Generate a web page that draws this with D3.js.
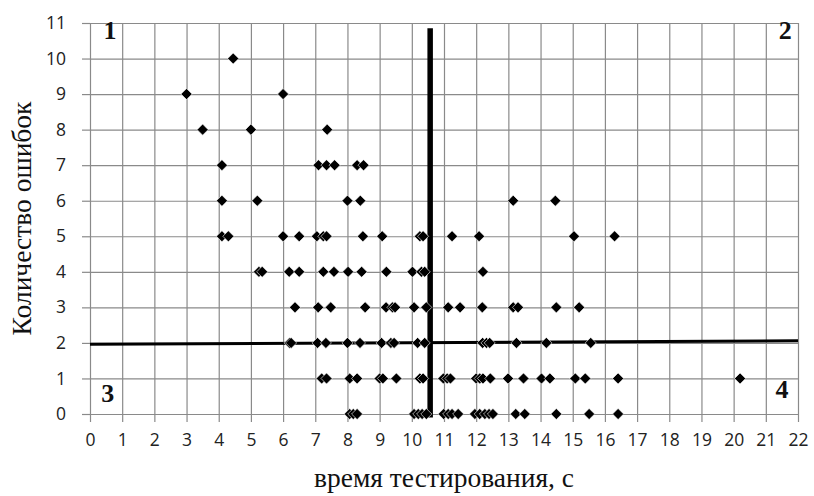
<!DOCTYPE html>
<html>
<head>
<meta charset="utf-8">
<script src="https://cdn.jsdelivr.net/npm/d3@7"></script>
<style>
  body { margin: 0; background: #fff; }
  .tick-label { font-family: "Open Sans", sans-serif; font-size: 17.5px; fill: #222; }
  .axis-title { font-family: "Liberation Serif", "Times New Roman", serif; font-size: 27.5px; fill: #111; }
  .quadrant { font-family: "Liberation Serif", "Times New Roman", serif; font-size: 26px; font-weight: bold; fill: #111; }
</style>
</head>
<body>
<svg id="chart"></svg>
<script>
// time (s) of each test, grouped by number of errors
const timesErr0 = [8.07, 8.18, 8.3, 10.07, 10.2, 10.32, 10.45, 10.99, 11.13, 11.25, 11.44, 11.96, 12.11, 12.27, 12.4, 12.52, 13.23, 13.51, 14.49, 15.51, 16.41];
const timesErr1 = [7.2, 7.35, 8.07, 8.3, 9.0, 9.1, 9.52, 10.25, 10.35, 10.98, 11.1, 11.2, 12.0, 12.11, 12.21, 12.44, 12.99, 13.47, 14.03, 14.29, 15.08, 15.39, 16.41, 20.2];
const timesErr2 = [6.2, 6.25, 7.07, 7.33, 8.0, 8.39, 9.06, 9.35, 9.45, 10.18, 10.4, 12.2, 12.32, 12.42, 13.25, 14.18, 15.56];
const timesErr3 = [6.37, 7.09, 7.48, 8.55, 9.2, 9.4, 9.48, 10.07, 10.45, 11.13, 11.5, 12.19, 13.15, 13.3, 14.49, 15.2];
const timesErr4 = [5.25, 5.35, 6.19, 6.5, 7.25, 7.58, 8.02, 8.44, 9.21, 10.02, 10.3, 10.4, 12.21];
const timesErr5 = [4.1, 4.3, 6.0, 6.5, 7.05, 7.25, 7.35, 8.48, 9.08, 10.25, 10.35, 11.25, 12.09, 15.04, 16.3];
const timesErr6 = [4.1, 5.2, 8.0, 8.4, 13.15, 14.46];
const timesErr7 = [4.1, 7.1, 7.35, 7.6, 8.3, 8.5];
const timesErr8 = [3.5, 5.0, 7.37];
const timesErr9 = [3.0, 6.0];
const timesErr10 = [4.45];

const xTicks = d3.range(0, 23);
const yTicks = d3.range(0, 12);

// dividing lines between quadrants
const timeSplit = 10.57;
const timeSplitRange = [-0.1, 10.85];
const errorSplit = [1.96, 2.06];   // at t=0 and t=22
const quadrantLabels = ["1", "2", "3", "4"];

const W = 814, H = 496;
const margin = {top: 23, right: 16, bottom: 82, left: 90};
const width = W - margin.left - margin.right;
const height = H - margin.top - margin.bottom;

const points = [];
[timesErr0, timesErr1, timesErr2, timesErr3, timesErr4, timesErr5,
 timesErr6, timesErr7, timesErr8, timesErr9, timesErr10].forEach((times, errors) => {
    times.forEach(t => points.push({t: t, e: errors}));
});

const svg = d3.select("#chart").attr("width", W).attr("height", H);
const g = svg.append("g").attr("transform", `translate(${margin.left},${margin.top})`);

const x = d3.scaleLinear().domain([0, 22]).range([0, width]);
const y = d3.scaleLinear().domain([0, 11]).range([height, 0]);

// grid
g.append("g")
    .attr("transform", `translate(0,${height})`)
    .call(d3.axisBottom(x).tickValues(xTicks).tickSize(-height).tickFormat(""))
    .call(a => a.select(".domain").remove())
    .call(a => a.selectAll("line").attr("stroke", "#8a8a8a").attr("stroke-width", 1.2));
g.append("g")
    .call(d3.axisLeft(y).tickValues(yTicks).tickSize(-width).tickFormat(""))
    .call(a => a.select(".domain").remove())
    .call(a => a.selectAll("line").attr("stroke", "#8a8a8a").attr("stroke-width", 1.2));

// axes with outward ticks
const xAxis = g.append("g")
    .attr("transform", `translate(0,${height})`)
    .call(d3.axisBottom(x).tickValues(xTicks).tickSize(8).tickPadding(12))
    .call(a => a.select(".domain").remove());
xAxis.selectAll("line").attr("stroke", "#8a8a8a").attr("stroke-width", 1.2);
xAxis.selectAll("text").attr("class", "tick-label");

const yAxis = g.append("g")
    .call(d3.axisLeft(y).tickValues(yTicks).tickSize(8).tickPadding(16))
    .call(a => a.select(".domain").remove());
yAxis.selectAll("line").attr("stroke", "#8a8a8a").attr("stroke-width", 1.2);
yAxis.selectAll("text").attr("class", "tick-label");

// quadrant split lines
g.append("line")
    .attr("x1", x(0)).attr("y1", y(errorSplit[0]))
    .attr("x2", x(22)).attr("y2", y(errorSplit[1]))
    .attr("stroke", "#000").attr("stroke-width", 3);
g.append("line")
    .attr("x1", x(timeSplit)).attr("y1", y(timeSplitRange[0]))
    .attr("x2", x(timeSplit)).attr("y2", y(timeSplitRange[1]))
    .attr("stroke", "#000").attr("stroke-width", 5.5);

// markers
const diamond = d3.symbol().type(d3.symbolDiamond2).size(78);
g.append("g")
    .selectAll("path")
    .data(points)
    .enter().append("path")
    .attr("d", diamond)
    .attr("transform", d => `translate(${x(d.t)},${y(d.e)})`)
    .attr("fill", "#000")
    .attr("stroke", "#fff")
    .attr("stroke-width", 0.6);

// quadrant numbers
const quadPos = [[0.62, 10.55], [21.6, 10.55], [0.55, 0.35], [21.5, 0.45]];
g.selectAll(".quadrant")
    .data(quadrantLabels)
    .enter().append("text")
    .attr("class", "quadrant")
    .attr("text-anchor", "middle")
    .attr("x", (d, i) => x(quadPos[i][0]))
    .attr("y", (d, i) => y(quadPos[i][1]))
    .text(d => d);

// axis titles
svg.append("text")
    .attr("class", "axis-title")
    .attr("text-anchor", "middle")
    .attr("x", margin.left + width / 2)
    .attr("y", 487)
    .text("время тестирования, с");

svg.append("text")
    .attr("class", "axis-title")
    .attr("text-anchor", "middle")
    .attr("transform", `translate(31,${margin.top + height / 2}) rotate(-90)`)
    .text("Количество ошибок");
</script>
</body>
</html>
